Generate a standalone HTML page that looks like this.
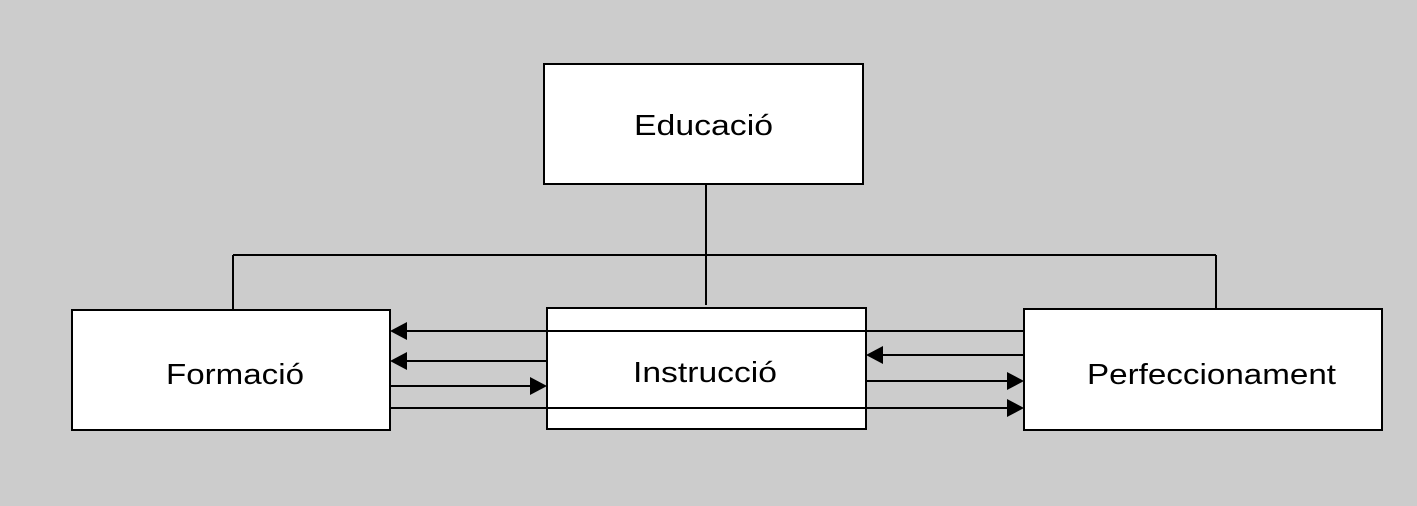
<!DOCTYPE html>
<html><head><meta charset="utf-8"><style>html,body{margin:0;padding:0;background:#cccccc}svg{display:block}</style></head>
<body>
<svg width="1417" height="506" viewBox="0 0 1417 506" xmlns="http://www.w3.org/2000/svg">
<rect width="1417" height="506" fill="#cccccc"/>
<g fill="#fff" stroke="#000" stroke-width="2">
<rect x="544" y="64" width="319" height="120"/>
<rect x="72" y="310" width="318" height="120"/>
<rect x="547" y="308" width="319" height="121"/>
<rect x="1024" y="309" width="358" height="121"/>
</g>
<g stroke="#000" stroke-width="2" fill="none">
<path d="M706 184V305M233 255H1216M233 255V310M1216 255V309"/>
<path d="M405 331H1024"/>
<path d="M405 361H547"/>
<path d="M390 386H531"/>
<path d="M390 408H1008"/>
<path d="M882 355H1024"/>
<path d="M866 381H1008"/>
</g>
<g fill="#000">
<polygon points="390,331 407,322 407,340"/>
<polygon points="390,361 407,352 407,370"/>
<polygon points="547,386 530,377 530,395"/>
<polygon points="1024,408 1007,399 1007,417"/>
<polygon points="866,355 883,346 883,364"/>
<polygon points="1024,381 1007,372 1007,390"/>
</g>
<g font-family="Liberation Sans, sans-serif" font-size="29" fill="#000">
<text x="634" y="135" textLength="139" lengthAdjust="spacingAndGlyphs">Educació</text>
<text x="166" y="384" textLength="138" lengthAdjust="spacingAndGlyphs">Formació</text>
<text x="633" y="382" textLength="144" lengthAdjust="spacingAndGlyphs">Instrucció</text>
<text x="1087" y="384" textLength="249" lengthAdjust="spacingAndGlyphs">Perfeccionament</text>
</g>
</svg>
</body></html>
